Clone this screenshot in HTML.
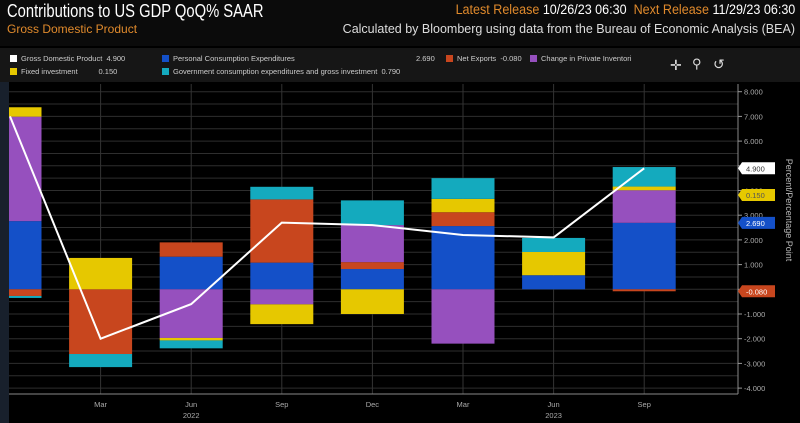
<!DOCTYPE html>
<html><head><meta charset="utf-8"><style>
body{margin:0;width:800px;height:423px;background:#000;overflow:hidden;font-family:"Liberation Sans",sans-serif;}
#hdr{position:absolute;left:0;top:0;width:800px;height:46px;background:#0b0b0b;}
#leg{position:absolute;left:0;top:48px;width:800px;height:34px;background:#161616;}
.t{position:absolute;white-space:nowrap;}
.li{position:absolute;font-size:7.5px;color:#ccc;white-space:nowrap;}
.sw{display:inline-block;width:7px;height:7px;margin-right:4px;vertical-align:-1px;}
</style></head><body>
<div id="hdr">
<div class="t" style="left:7px;top:1px;font-size:18px;color:#fff;transform:scaleX(0.82);transform-origin:left top;">Contributions to US GDP QoQ% SAAR</div>
<div class="t" style="left:7px;top:22px;font-size:12px;color:#e08a2c;">Gross Domestic Product</div>
<div class="t" style="right:5px;top:2px;font-size:13.5px;color:#fff;transform:scaleX(0.93);transform-origin:right top;"><span style="color:#e08a2c">Latest Release</span> 10/26/23 06:30 &nbsp;<span style="color:#e08a2c">Next Release</span> 11/29/23 06:30</div>
<div class="t" style="right:5px;top:22px;font-size:12.5px;color:#ddd;">Calculated by Bloomberg using data from the Bureau of Economic Analysis (BEA)</div>
</div>
<div id="leg">
<div class="li" style="left:10px;top:6px"><span class="sw" style="background:#fff"></span>Gross Domestic Product &nbsp;4.900</div>
<div class="li" style="left:162px;top:6px"><span class="sw" style="background:#1450c8"></span>Personal Consumption Expenditures</div>
<div class="li" style="left:416px;top:6px">2.690</div>
<div class="li" style="left:446px;top:6px"><span class="sw" style="background:#c8461e"></span>Net Exports &nbsp;-0.080</div>
<div class="li" style="left:530px;top:6px"><span class="sw" style="background:#9650be"></span>Change in Private Inventori</div>
<div class="li" style="left:10px;top:19px"><span class="sw" style="background:#e6c800"></span>Fixed investment &nbsp;&nbsp;&nbsp;&nbsp;&nbsp;&nbsp;&nbsp;&nbsp;&nbsp;0.150</div>
<div class="li" style="left:162px;top:19px"><span class="sw" style="background:#14aabe"></span>Government consumption expenditures and gross investment &nbsp;0.790</div>
<div class="t" style="left:670px;top:9px;font-size:14px;color:#ddd">✛</div>
<div class="t" style="left:692px;top:8px;font-size:13px;color:#ddd">⚲</div>
<div class="t" style="left:713px;top:8px;font-size:14px;color:#ddd">↺</div>
</div>
<div style="position:absolute;left:0;top:82px;width:9px;height:341px;background:#18202c"></div>
<svg id="c" width="800" height="423" style="position:absolute;left:0;top:0"></svg>
<script>
const quarters=["Dec21","Mar22","Jun22","Sep22","Dec22","Mar23","Jun23","Sep23"];
const xLabels=["","Mar","Jun","Sep","Dec","Mar","Jun","Sep"];
const pce=[2.76,0,1.32,1.08,0.82,2.56,0.57,2.69];
const netExports=[-0.27,-2.62,0.58,2.56,0.28,0.56,0,-0.08];
const inventories=[4.23,0,-1.97,-0.61,1.5,-2.2,0,1.32];
const fixedInv=[0.38,1.27,-0.1,-0.8,-1.0,0.54,0.94,0.15];
const govt=[-0.08,-0.53,-0.32,0.51,1.0,0.84,0.57,0.79];
const gdp=[7.0,-2.0,-0.6,2.7,2.6,2.2,2.1,4.9];
const yTicks=[8,7,6,5,4,3,2,1,0,-1,-2,-3,-4];
const NS="http://www.w3.org/2000/svg";
const svg=document.getElementById('c');
const L=9,R=738,T=84,B=394;
const y=v=>289.3-v*24.7;
const x=i=>10+i*90.6;
function mk(t,a,p){const e=document.createElementNS(NS,t);for(const k in a)e.setAttribute(k,a[k]);(p||svg).appendChild(e);return e;}
const clip=mk('clipPath',{id:'pc'});mk('rect',{x:L,y:T,width:R-L,height:B-T},clip);
for(let v=-4;v<=8.01;v+=0.5){const g=mk('line',{x1:L,x2:R,y1:y(v),y2:y(v),stroke:'#2e2e2e','stroke-width':1});

}
for(let i=1;i<quarters.length;i++){const g=mk('line',{x1:x(i),x2:x(i),y1:T,y2:B,stroke:'#333'});

}
const series=[[pce,'#1450c8','pce'],[netExports,'#c8461e','net-exports'],[inventories,'#9650be','inventories'],[fixedInv,'#e6c800','fixed-investment'],[govt,'#14aabe','government']];
const gb=mk('g',{'clip-path':'url(#pc)'});
quarters.forEach((q,i)=>{let pos=0,neg=0;
series.forEach(([arr,col,nm])=>{const v=arr[i];if(!v)return;let a,b;
if(v>0){a=pos;b=pos+v;pos=b;}else{a=neg;b=neg+v;neg=b;}
const r=mk('rect',{x:x(i)-31.5,width:63,y:Math.min(y(a),y(b)),height:Math.abs(y(a)-y(b)),fill:col},gb);

});});
const pl=mk('polyline',{points:gdp.map((v,i)=>x(i)+','+y(v)).join(' '),fill:'none',stroke:'#fff','stroke-width':2},gb);


mk('line',{x1:R,x2:R,y1:T,y2:B,stroke:'#888'});
mk('line',{x1:L,x2:R,y1:B,y2:B,stroke:'#888'});
yTicks.forEach(v=>{mk('line',{x1:R,x2:R+4,y1:y(v),y2:y(v),stroke:'#999'});
const t=mk('text',{x:R+6,y:y(v)+3,fill:'#aaa','font-size':7.5});t.textContent=v.toFixed(3);

});
xLabels.forEach((s,i)=>{if(!s)return;const t=mk('text',{x:x(i),y:407,fill:'#aaa','font-size':7.5,'text-anchor':'middle'});t.textContent=s;

});
[["2022",2],["2023",6]].forEach(([s,i])=>{const t=mk('text',{x:x(i),y:418,fill:'#aaa','font-size':7.5,'text-anchor':'middle'});t.textContent=s;

});
const tags=[[gdp[7],'#fff','#333','gdp'],[3.82,'#e6c800','#555','fixed-investment'],[pce[7],'#1450c8','#fff','pce'],[netExports[7],'#c8461e','#fff','net-exports']];
const tagText=["4.900","0.150","2.690","-0.080"];
tags.forEach(([v,bg,fg,nm],k)=>{const yy=y(v);
const p=mk('path',{d:`M${R} ${yy} L${R+4} ${yy-6} L${R+37} ${yy-6} L${R+37} ${yy+6} L${R+4} ${yy+6}Z`,fill:bg});


const t=mk('text',{x:R+8,y:yy+3,fill:fg,'font-size':7.5});t.textContent=tagText[k];});
const at=mk('text',{x:786,y:210,fill:'#bbb','font-size':9,'text-anchor':'middle',transform:'rotate(90 786 210)'});
at.textContent='Percent/Percentage Point';


</script>
</body></html>
